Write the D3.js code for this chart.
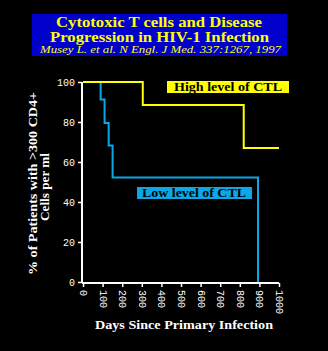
<!DOCTYPE html>
<html>
<head>
<meta charset="utf-8">
<script src="https://cdn.jsdelivr.net/npm/d3@7"></script>
<style>
  body { margin: 0; background: #000; }
  svg { display: block; }
</style>
</head>
<body>
<div id="chart"></div>
<script>
// survival steps: [day, percent]
const highDays = [0, 305, 305, 820, 820, 1000];
const highPct = [100, 100, 88.5, 88.5, 67, 67];
const lowDays = [0, 90, 90, 110, 110, 131, 131, 151, 151, 893, 893];
const lowPct = [100, 100, 91.3, 91.3, 79.5, 79.5, 68.3, 68.3, 52.3, 52.3, 0];
const xTicks = [0, 100, 200, 300, 400, 500, 600, 700, 800, 900, 1000];
const yTicks = [0, 20, 40, 60, 80, 100];
const titleLines = ['Cytotoxic T cells and Disease', 'Progression in HIV-1 Infection'];
const citation = 'Musey L. et al.  N Engl. J Med. 337:1267, 1997';

const width = 328, height = 351;
const svg = d3.select('#chart').append('svg')
  .attr('width', width).attr('height', height)
  .style('background', '#000');

// title box
svg.append('rect').attr('x', 32).attr('y', 14).attr('width', 255).attr('height', 42)
  .attr('fill', '#0000cc');
svg.append('text').attr('x', 159).attr('y', 27).attr('text-anchor', 'middle')
  .attr('fill', '#ffff00').attr('font-family', 'Liberation Serif').attr('font-weight', 'bold')
  .attr('font-size', 14).attr('textLength', 206).attr('lengthAdjust', 'spacingAndGlyphs')
  .text(titleLines[0]);
svg.append('text').attr('x', 159.5).attr('y', 42).attr('text-anchor', 'middle')
  .attr('fill', '#ffff00').attr('font-family', 'Liberation Serif').attr('font-weight', 'bold')
  .attr('font-size', 14).attr('textLength', 219).attr('lengthAdjust', 'spacingAndGlyphs')
  .text(titleLines[1]);
svg.append('text').attr('x', 160.5).attr('y', 53).attr('text-anchor', 'middle')
  .attr('fill', '#ffff00').attr('font-family', 'Liberation Serif').attr('font-style', 'italic')
  .attr('font-size', 10).attr('textLength', 241).attr('lengthAdjust', 'spacingAndGlyphs')
  .text(citation);

const x = d3.scaleLinear().domain([0, 1000]).range([83, 279]);
const y = d3.scaleLinear().domain([0, 100]).range([282, 82]);

const xAxis = svg.append('g').attr('transform', 'translate(0,283)')
  .call(d3.axisBottom(x).tickValues(xTicks).tickFormat(d3.format('d')).tickSize(4).tickSizeOuter(0));
xAxis.selectAll('text')
  .attr('transform', 'rotate(90)').attr('text-anchor', 'start')
  .attr('x', 7).attr('y', 0).attr('dy', '0.35em');

const yAxis = svg.append('g').attr('transform', 'translate(82,0)')
  .call(d3.axisLeft(y).tickValues(yTicks).tickSize(4).tickSizeOuter(0));

[xAxis, yAxis].forEach(g => {
  g.select('.domain').attr('stroke', '#fff').attr('stroke-width', 2);
  g.selectAll('line').attr('stroke', '#fff').attr('stroke-width', 1.5);
  g.selectAll('text').attr('fill', '#fff').attr('font-family', 'Liberation Mono')
    .attr('font-size', 10);
});
yAxis.select('.domain').attr('d', `M0,${y(100)}V${y(0) + 1}`);
xAxis.select('.domain').attr('d', `M${x(0) - 1},0H${x(1000)}`);

const line = d3.line().x(d => x(d[0])).y(d => y(d[1]));
svg.append('path').datum(lowDays.map((d, i) => [d, lowPct[i]]))
  .attr('d', line).attr('fill', 'none').attr('stroke', '#0aa8e6').attr('stroke-width', 2);
svg.append('path').datum(highDays.map((d, i) => [d, highPct[i]]))
  .attr('d', line).attr('fill', 'none').attr('stroke', '#ffff00').attr('stroke-width', 2);

// labels
svg.append('rect').attr('x', 167).attr('y', 81).attr('width', 122).attr('height', 12).attr('fill', '#ffff00');
svg.append('text').attr('x', 228).attr('y', 91).attr('text-anchor', 'middle')
  .attr('font-family', 'Liberation Serif').attr('font-weight', 'bold').attr('font-size', 12)
  .attr('textLength', 108).attr('lengthAdjust', 'spacingAndGlyphs')
  .attr('fill', '#000').text('High level of CTL');
svg.append('rect').attr('x', 137).attr('y', 187).attr('width', 115).attr('height', 12).attr('fill', '#0aa8e6');
svg.append('text').attr('x', 194).attr('y', 197).attr('text-anchor', 'middle')
  .attr('font-family', 'Liberation Serif').attr('font-weight', 'bold').attr('font-size', 12)
  .attr('textLength', 104).attr('lengthAdjust', 'spacingAndGlyphs')
  .attr('fill', '#000').text('Low level of CTL');

// axis titles
svg.append('text').attr('x', 184).attr('y', 329).attr('text-anchor', 'middle')
  .attr('fill', '#fff').attr('font-family', 'Liberation Serif').attr('font-weight', 'bold')
  .attr('font-size', 12).attr('textLength', 178).attr('lengthAdjust', 'spacingAndGlyphs')
  .text('Days Since Primary Infection');
svg.append('text').attr('transform', 'translate(37,183.5) rotate(-90)').attr('text-anchor', 'middle')
  .attr('fill', '#fff').attr('font-family', 'Liberation Serif').attr('font-weight', 'bold')
  .attr('font-size', 12).attr('textLength', 183).attr('lengthAdjust', 'spacingAndGlyphs')
  .text('% of Patients with >300 CD4+');
svg.append('text').attr('transform', 'translate(49,187) rotate(-90)').attr('text-anchor', 'middle')
  .attr('fill', '#fff').attr('font-family', 'Liberation Serif').attr('font-weight', 'bold')
  .attr('font-size', 12).attr('textLength', 68).attr('lengthAdjust', 'spacingAndGlyphs')
  .text('Cells per ml');
</script>
</body>
</html>
